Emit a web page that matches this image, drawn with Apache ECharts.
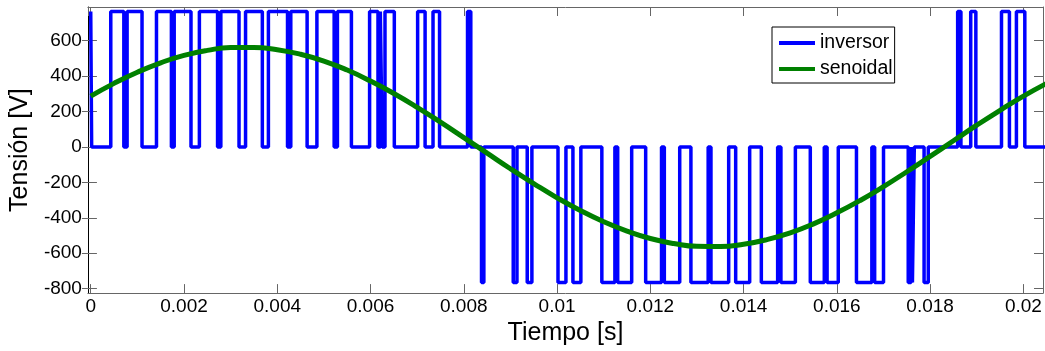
<!DOCTYPE html>
<html>
<head>
<meta charset="utf-8">
<script src="https://cdn.jsdelivr.net/npm/echarts@6/dist/echarts.min.js"></script>
<style>
  html, body { margin: 0; padding: 0; background: #fff; }
  #chart { width: 1045px; height: 351px; }
</style>
</head>
<body>
<div id="chart"></div>
<script>
// señal del inversor: instantes de conmutación [s] y nivel [V] desde ese instante
const inversorTiempo = [
  0, 0.00002, 0.00043, 0.00071, 0.00078, 0.00110, 0.00141, 0.00173, 0.00179, 0.00215,
  0.00233, 0.00272, 0.00279, 0.00318, 0.00332, 0.00368, 0.00381, 0.00422, 0.00429, 0.00464,
  0.00485, 0.00522, 0.00529, 0.00559, 0.00598, 0.00616, 0.00621, 0.00625, 0.00631, 0.00651,
  0.00701, 0.00717, 0.00734, 0.00748, 0.00808, 0.00815, 0.00838, 0.00843, 0.00906, 0.00914,
  0.00936, 0.00946, 0.01002, 0.01019, 0.01034, 0.01051, 0.01096, 0.01124, 0.01130, 0.01160,
  0.01190, 0.01224, 0.01230, 0.01263, 0.01287, 0.01324, 0.01330, 0.01368, 0.01383, 0.01413,
  0.01438, 0.01473, 0.01480, 0.01511, 0.01543, 0.01573, 0.01579, 0.01603, 0.01642, 0.01675,
  0.01681, 0.01700, 0.01753, 0.01759, 0.01762, 0.01766, 0.01787, 0.01796, 0.01859, 0.01866,
  0.01887, 0.01898, 0.01953, 0.01970, 0.01985, 0.02003, 0.0205
];
const inversorNivel = [
  765, 0, 765, 0, 765, 0, 765, 0, 765, 0,
  765, 0, 765, 0, 765, 0, 765, 0, 765, 0,
  765, 0, 765, 0, 765, 0, 765, 0, 765, 0,
  765, 0, 765, 0, 765, 0, -765, 0, -765, 0,
  -765, 0, -765, 0, -765, 0, -765, 0, -765, 0,
  -765, 0, -765, 0, -765, 0, -765, 0, -765, 0,
  -765, 0, -765, 0, -765, 0, -765, 0, -765, 0,
  -765, 0, -765, 0, -765, 0, -765, 0, 765, 0,
  765, 0, 765, 0, 765, 0, 0
];

// senoidal de referencia, muestreada cada 0.5 ms
const senoTiempo = [
  0, 0.0005, 0.001, 0.0015, 0.002, 0.0025, 0.003, 0.0035, 0.004, 0.0045,
  0.005, 0.0055, 0.006, 0.0065, 0.007, 0.0075, 0.008, 0.0085, 0.009, 0.0095,
  0.010, 0.0105, 0.011, 0.0115, 0.012, 0.0125, 0.013, 0.0135, 0.014, 0.0145,
  0.015, 0.0155, 0.016, 0.0165, 0.017, 0.0175, 0.018, 0.0185, 0.019, 0.0195,
  0.020, 0.0205
];
const senoValor = [
  287, 359, 422, 475, 517, 545, 561, 562, 549, 523,
  485, 434, 372, 302, 224, 140, 53, -35, -123, -207,
  -287, -359, -422, -475, -517, -545, -561, -562, -549, -523,
  -485, -434, -372, -302, -224, -140, -53, 35, 123, 207,
  287, 359
];

const T_MIN = -0.00006, T_MAX = 0.02042;
const V_MIN = -825, V_MAX = 790;
const FONT = "'Liberation Sans', Arial, sans-serif";
const AXIS_COLOR = "#666";

const chart = echarts.init(document.getElementById("chart"));

const inversorData = inversorTiempo.map((t, i) => [t, inversorNivel[i]]);
const senoData = senoTiempo.map((t, i) => [t, senoValor[i]]);

// ejes secundarios (marco tipo MATLAB con marcas hacia dentro)
const frameX = (position) => ({
  type: "value",
  position: position,
  min: T_MIN,
  max: T_MAX,
  splitNumber: 10,
  axisLine: { show: true, onZero: false, lineStyle: { color: AXIS_COLOR, width: 1 } },
  axisTick: { show: true, inside: true, length: 9, lineStyle: { color: AXIS_COLOR } },
  axisLabel: { show: false },
  splitLine: { show: false },
});
const frameY = (position, lineShow) => ({
  type: "value",
  position: position,
  min: V_MIN,
  max: V_MAX,
  splitNumber: 8,
  axisLine: { show: lineShow, onZero: false, lineStyle: { color: AXIS_COLOR, width: 1 } },
  axisTick: { show: true, inside: true, length: 9, lineStyle: { color: AXIS_COLOR } },
  axisLabel: { show: false },
  splitLine: { show: false },
});

const option = {
  animation: false,
  backgroundColor: "#fff",
  grid: { left: 86, right: 2, top: 7, bottom: 54 },
  legend: {
    orient: "vertical",
    left: 772,
    top: 27,
    padding: [6, 2, 4, 7],
    itemWidth: 36,
    itemHeight: 4,
    itemGap: 6,
    borderColor: "#000",
    borderWidth: 1,
    borderRadius: 0,
    backgroundColor: "#fff",
    textStyle: { fontFamily: FONT, fontSize: 19.5, color: "#000", lineHeight: 20 },
    data: [
      { name: "inversor", icon: "rect" },
      { name: "senoidal", icon: "rect" },
    ],
  },
  xAxis: [
    {
      type: "value",
      position: "bottom",
      min: T_MIN,
      max: T_MAX,
      splitNumber: 10,
      name: "Tiempo [s]",
      nameLocation: "middle",
      nameGap: 21,
      nameTextStyle: { fontFamily: FONT, fontSize: 25, color: "#000" },
      axisLine: { show: true, onZero: false, lineStyle: { color: AXIS_COLOR, width: 1 } },
      axisTick: { show: true, inside: true, length: 9, lineStyle: { color: AXIS_COLOR } },
      axisLabel: {
        fontFamily: FONT, fontSize: 19, color: "#000", margin: 4,
        showMinLabel: false, showMaxLabel: false,
      },
      splitLine: { show: false },
    },
    frameX("top"),
  ],
  yAxis: [
    {
      type: "value",
      position: "left",
      min: V_MIN,
      max: V_MAX,
      splitNumber: 8,
      name: "Tensión [V]",
      nameLocation: "middle",
      nameGap: 53,
      nameTextStyle: { fontFamily: FONT, fontSize: 25, color: "#000" },
      axisLine: { show: true, onZero: false, lineStyle: { color: "#000", width: 1 } },
      axisTick: { show: true, inside: false, length: 6, lineStyle: { color: AXIS_COLOR } },
      axisLabel: {
        fontFamily: FONT, fontSize: 19, color: "#000", margin: 6,
        showMinLabel: false, showMaxLabel: false,
      },
      splitLine: { show: false },
    },
    frameY("right", true),
    frameY("left", false),
  ],
  series: [
    {
      name: "inversor",
      type: "line",
      step: "end",
      data: inversorData,
      showSymbol: false,
      symbol: "none",
      color: "#0000ff",
      lineStyle: { color: "#0000ff", width: 3.5 },
      xAxisIndex: 0,
      yAxisIndex: 0,
    },
    {
      name: "senoidal",
      type: "line",
      smooth: true,
      data: senoData,
      showSymbol: false,
      symbol: "none",
      color: "#008000",
      lineStyle: { color: "#008000", width: 5 },
      xAxisIndex: 0,
      yAxisIndex: 0,
    },
  ],
};

chart.setOption(option);
</script>
</body>
</html>
